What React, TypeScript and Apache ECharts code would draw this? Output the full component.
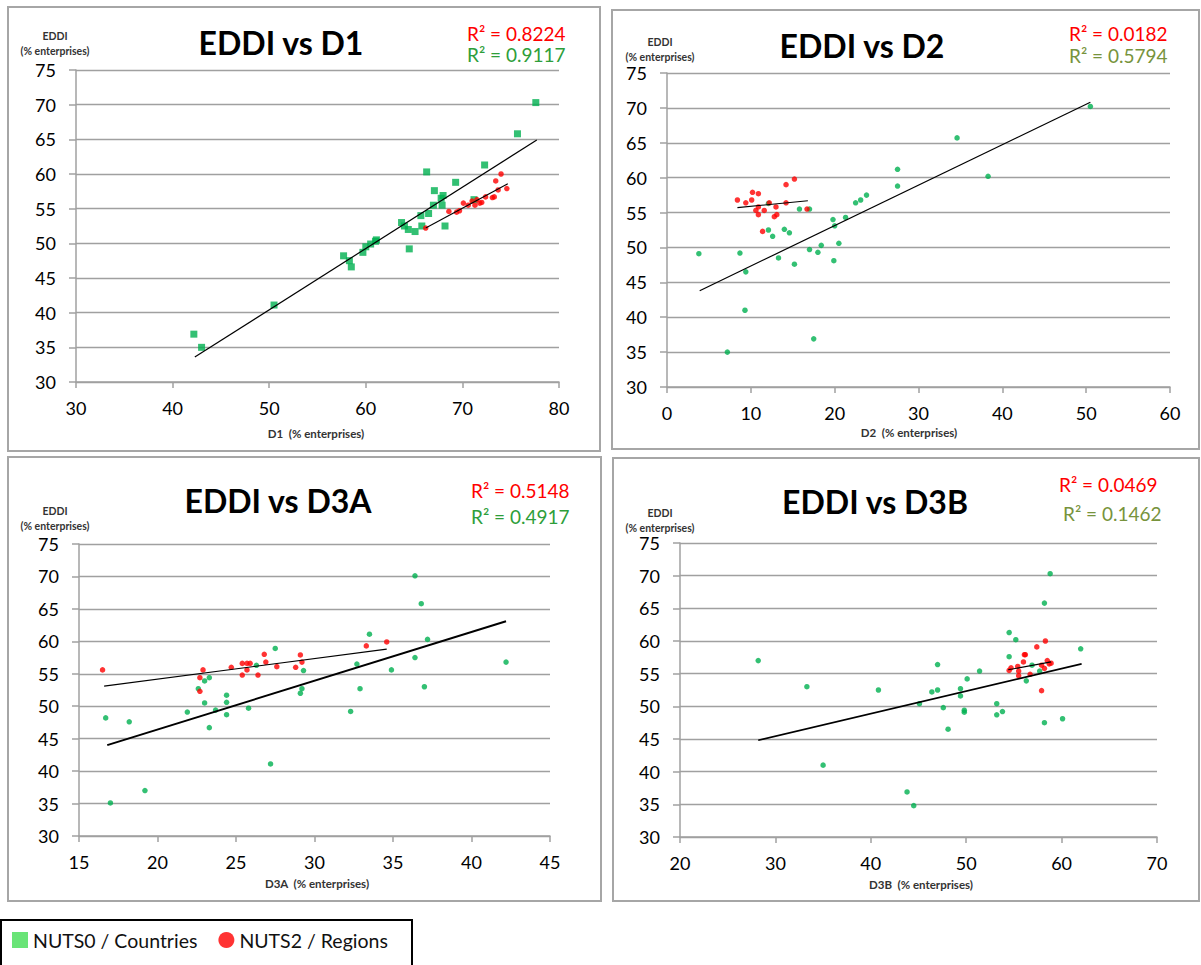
import React, { useEffect, useRef } from "react";
import * as echarts from "echarts";

// ---------- data ----------
const countriesName = "NUTS0 / Countries";
const regionsName = "NUTS2 / Regions";

const d1Countries = [
  [42.2, 36.9], [43.0, 35.0], [50.5, 41.1], [57.7, 48.2], [58.3, 47.5], [58.5, 46.6],
  [59.7, 48.7], [60.0, 49.5], [60.5, 49.9], [61.0, 50.3], [61.1, 50.5], [63.7, 53.0],
  [64.0, 52.5], [64.4, 52.0], [65.1, 51.7], [64.5, 49.2], [65.7, 54.0], [65.8, 52.5],
  [66.3, 60.3], [66.5, 54.3], [67.0, 55.5], [67.1, 57.6], [67.8, 56.5], [68.0, 56.9],
  [67.9, 55.5], [68.2, 52.5], [69.3, 58.8], [71.2, 56.3], [72.3, 61.3], [75.7, 65.8],
  [77.6, 70.3],
];
const d1Regions = [
  [66.2, 52.2], [68.6, 54.6], [69.4, 54.5], [69.7, 54.7], [70.1, 55.8], [70.6, 55.5],
  [71.0, 56.1], [71.3, 55.5], [71.5, 56.3], [71.8, 55.8], [72.0, 55.9], [72.4, 56.7],
  [73.1, 56.6], [73.3, 56.7], [73.45, 59.0], [73.7, 57.7], [74.0, 60.0], [74.6, 57.9],
];
const d1CountryTrend = [[42.3, 33.6], [77.7, 64.9]];
const d1RegionTrend = [[66.2, 52.2], [74.7, 58.6]];

const d2Countries = [
  [3.8, 49.1], [8.7, 49.2], [9.4, 46.5], [9.3, 41.0], [7.2, 35.0], [17.5, 36.9],
  [12.1, 56.3], [12.1, 52.5], [12.6, 51.6], [14.0, 52.6], [14.6, 52.1], [13.3, 48.5],
  [15.2, 47.6], [15.8, 55.5], [17.0, 55.5], [17.0, 49.7], [18.0, 49.3], [18.4, 50.3],
  [19.8, 54.0], [20.0, 53.1], [19.9, 48.1], [20.5, 50.6], [21.3, 54.3], [22.5, 56.4],
  [23.1, 56.8], [23.8, 57.5], [27.5, 61.2], [27.5, 58.8], [34.6, 65.7], [38.3, 60.2],
  [50.5, 70.2],
];
const d2Regions = [
  [8.4, 56.8], [9.4, 56.4], [10.1, 56.8], [10.2, 57.9], [10.9, 57.7], [10.6, 55.3],
  [10.9, 55.8], [10.9, 54.7], [11.6, 55.3], [11.4, 52.3], [12.2, 56.4], [12.8, 54.4],
  [13.1, 54.7], [13.0, 55.8], [14.2, 59.0], [14.2, 56.4], [15.2, 59.8], [16.7, 55.5],
];
const d2CountryTrend = [[3.9, 43.8], [50.5, 70.8]];
const d2RegionTrend = [[8.4, 55.7], [16.8, 56.7]];

const d3Countries = [
  [16.7, 48.2], [17.0, 35.1], [18.2, 47.6], [19.2, 37.0], [21.9, 49.1], [22.6, 52.7],
  [23.0, 53.9], [23.3, 54.4], [23.0, 50.5], [23.3, 46.7], [23.7, 49.4], [24.4, 51.7],
  [24.4, 50.6], [24.4, 48.7], [25.8, 49.7], [26.3, 56.3], [27.2, 41.1], [27.5, 58.9],
  [29.1, 52.0], [29.2, 52.7], [29.3, 55.5], [32.3, 49.2], [32.7, 56.5], [32.9, 52.7],
  [33.5, 61.1], [34.9, 55.6], [36.4, 70.1], [36.4, 57.5], [36.8, 65.8], [37.0, 53.0],
  [37.2, 60.3], [42.2, 56.8],
];
const d3Regions = [
  [16.5, 55.6], [22.7, 54.4], [22.7, 52.3], [22.9, 55.6], [24.7, 56.0], [25.4, 56.6],
  [25.4, 54.8], [25.7, 56.6], [25.7, 55.6], [25.9, 56.6], [26.4, 54.8], [26.8, 58.0],
  [26.9, 56.8], [27.6, 56.1], [28.8, 56.0], [29.1, 57.9], [29.2, 56.8], [33.3, 59.3],
  [34.6, 59.9],
];
const d3CountryTrend = [[16.8, 44.0], [42.2, 63.1]];
const d3RegionTrend = [[16.6, 53.1], [34.6, 58.8]];

const d4Countries = [
  [28.2, 57.0], [33.3, 53.0], [35.0, 41.0], [40.8, 52.5], [43.8, 36.9], [44.5, 34.8],
  [45.1, 50.4], [46.4, 52.2], [47.0, 56.4], [47.0, 52.5], [47.6, 49.8], [48.1, 46.5],
  [49.4, 52.7], [49.4, 51.6], [49.8, 49.4], [49.8, 49.1], [50.1, 54.2], [51.4, 55.4],
  [53.2, 50.4], [53.2, 48.7], [53.8, 49.2], [54.5, 61.3], [54.5, 57.6], [55.2, 60.2],
  [56.3, 53.9], [56.9, 56.3], [57.7, 55.4], [58.2, 65.8], [58.2, 47.5], [58.8, 70.3],
  [60.1, 48.1], [62.0, 58.8],
];
const d4Regions = [
  [54.5, 55.5], [54.7, 55.9], [55.4, 56.1], [55.5, 55.4], [55.5, 54.7], [56.0, 56.8],
  [56.1, 57.9], [56.2, 57.9], [56.7, 54.9], [57.4, 59.1], [57.9, 52.4], [57.9, 56.3],
  [58.2, 55.8], [58.3, 60.0], [58.5, 57.0], [58.7, 56.5], [58.9, 56.6],
];
const d4CountryTrend = [[28.2, 44.8], [62.1, 56.5]];
const d4RegionTrend = [[54.4, 55.6], [58.9, 56.8]];

const panelTitles = ["EDDI vs D1", "EDDI vs D2", "EDDI vs D3A", "EDDI vs D3B"];
const xAxisNames = ["D1  (% enterprises)", "D2  (% enterprises)", "D3A  (% enterprises)", "D3B  (% enterprises)"];
const regionR2 = ["R\u00B2 = 0.8224", "R\u00B2 = 0.0182", "R\u00B2 = 0.5148", "R\u00B2 = 0.0469"];
const countryR2 = ["R\u00B2 = 0.9117", "R\u00B2 = 0.5794", "R\u00B2 = 0.4917", "R\u00B2 = 0.1462"];
const xMins = [30, 0, 15, 20];
const xMaxs = [80, 60, 45, 70];
const xIntervals = [10, 10, 5, 10];
const yMin = 30;
const yMax = 75;
const yInterval = 5;

const countriesData = [d1Countries, d2Countries, d3Countries, d4Countries];
const regionsData = [d1Regions, d2Regions, d3Regions, d4Regions];
const countryTrends = [d1CountryTrend, d2CountryTrend, d3CountryTrend, d4CountryTrend];
const regionTrends = [d1RegionTrend, d2RegionTrend, d3RegionTrend, d4RegionTrend];

// ---------- layout / style ----------
const FONT = "Lato";
const GREEN = "#00B050";
const RED = "#FF0000";
const GRID_GRAY = "#A0A0A0";

const grids = [
  { left: 76, top: 70, width: 483, height: 312 },
  { left: 667, top: 73, width: 503, height: 314 },
  { left: 79, top: 544, width: 471, height: 292 },
  { left: 680, top: 543, width: 477, height: 294 },
];
const panelRects = [
  { x: 8, y: 7, width: 592, height: 444 },
  { x: 612, y: 10, width: 587, height: 439 },
  { x: 8, y: 457, width: 593, height: 444 },
  { x: 613, y: 458, width: 586, height: 443 },
];
const titlePos = [[281, 42], [862, 45], [278, 500], [875, 501]];
const r2RedPos = [[467, 33], [1069, 33], [471, 490], [1059, 484]];
const r2GreenPos = [[467, 54], [1069, 55], [471, 516], [1063, 513]];
const r2GreenColors = ["#2E9E3A", "#77933C", "#2E9E3A", "#77933C"];
const eddiPos = [[55, 28], [660, 34], [55, 503], [660, 505]];
const xNamePos = [[316, 433], [909, 432], [317, 883], [921, 884]];
const countryMarkers = [
  { symbol: "rect", size: 7 },
  { symbol: "circle", size: 5.5 },
  { symbol: "circle", size: 5.5 },
  { symbol: "circle", size: 5.5 },
];
const countryTrendWidths = [1.2, 1.2, 2, 1.6];

function buildOption() {
  const xAxis = grids.map((_, i) => ({
    type: "value",
    gridIndex: i,
    min: xMins[i],
    max: xMaxs[i],
    interval: xIntervals[i],
    axisLine: { show: true, onZero: false, lineStyle: { color: GRID_GRAY, width: 1.5 } },
    axisTick: { show: true, length: 6, lineStyle: { color: GRID_GRAY, width: 1.5 } },
    axisLabel: { fontFamily: FONT, fontSize: 18, color: "#000", margin: 17 },
    splitLine: { show: false },
  }));
  const yAxis = grids.map((_, i) => ({
    type: "value",
    gridIndex: i,
    min: yMin,
    max: yMax,
    interval: yInterval,
    axisLine: { show: true, lineStyle: { color: GRID_GRAY, width: 1.5 } },
    axisTick: { show: true, length: 7, lineStyle: { color: GRID_GRAY, width: 1.5 } },
    axisLabel: { fontFamily: FONT, fontSize: 18, color: "#000", margin: 20 },
    splitLine: { show: true, lineStyle: { color: GRID_GRAY, width: 1.3 } },
  }));

  const series: any[] = [];
  grids.forEach((_, i) => {
    series.push({
      name: countriesName,
      type: "scatter",
      xAxisIndex: i,
      yAxisIndex: i,
      symbol: countryMarkers[i].symbol,
      symbolSize: countryMarkers[i].size,
      itemStyle: { color: GREEN },
      data: countriesData[i],
      z: 2,
    });
    series.push({
      name: regionsName,
      type: "scatter",
      xAxisIndex: i,
      yAxisIndex: i,
      symbol: "circle",
      symbolSize: 5.5,
      itemStyle: { color: RED },
      data: regionsData[i],
      z: 3,
    });
    series.push({
      name: "countryTrend" + i,
      type: "line",
      xAxisIndex: i,
      yAxisIndex: i,
      symbol: "none",
      silent: true,
      lineStyle: { color: "#000", width: countryTrendWidths[i] },
      data: countryTrends[i],
      z: 4,
    });
    series.push({
      name: "regionTrend" + i,
      type: "line",
      xAxisIndex: i,
      yAxisIndex: i,
      symbol: "none",
      silent: true,
      lineStyle: { color: "#000", width: 1.1 },
      data: regionTrends[i],
      z: 4,
    });
  });

  const graphic: any[] = [];
  panelRects.forEach((r) => {
    graphic.push({
      type: "rect",
      shape: r,
      style: { fill: "none", stroke: "#A6A6A6", lineWidth: 2 },
      silent: true,
      z: -1,
    });
  });
  grids.forEach((_, i) => {
    graphic.push({
      type: "text",
      x: titlePos[i][0],
      y: titlePos[i][1],
      style: {
        text: panelTitles[i],
        fontFamily: FONT,
        fontSize: 32,
        fontWeight: "bold",
        fill: "#000",
        align: "center",
        verticalAlign: "middle",
      },
    });
    graphic.push({
      type: "text",
      x: r2RedPos[i][0],
      y: r2RedPos[i][1],
      style: {
        text: regionR2[i],
        fontFamily: FONT,
        fontSize: 19,
        fill: RED,
        align: "left",
        verticalAlign: "middle",
      },
    });
    graphic.push({
      type: "text",
      x: r2GreenPos[i][0],
      y: r2GreenPos[i][1],
      style: {
        text: countryR2[i],
        fontFamily: FONT,
        fontSize: 19,
        fill: r2GreenColors[i],
        align: "left",
        verticalAlign: "middle",
      },
    });
    graphic.push({
      type: "text",
      x: eddiPos[i][0],
      y: eddiPos[i][1],
      style: {
        text: "EDDI\n(% enterprises)",
        fontFamily: FONT,
        fontSize: 10.5,
        fontWeight: "bold",
        lineHeight: 15,
        fill: "#333",
        align: "center",
        verticalAlign: "top",
      },
    });
    graphic.push({
      type: "text",
      x: xNamePos[i][0],
      y: xNamePos[i][1],
      style: {
        text: xAxisNames[i],
        fontFamily: FONT,
        fontSize: 11.5,
        fontWeight: "bold",
        fill: "#333",
        align: "center",
        verticalAlign: "middle",
      },
    });
  });
  graphic.push({
    type: "rect",
    shape: { x: 1, y: 920, width: 411, height: 60 },
    style: { fill: "none", stroke: "#000", lineWidth: 2 },
    silent: true,
  });

  return {
    animation: false,
    backgroundColor: "#fff",
    grid: grids.map((g) => ({ ...g, containLabel: false })),
    xAxis,
    yAxis,
    series,
    graphic,
    legend: {
      left: 12,
      top: 930,
      padding: 0,
      itemWidth: 16,
      itemHeight: 16,
      itemGap: 21,
      selectedMode: false,
      textStyle: { fontFamily: FONT, fontSize: 19.5, color: "#111" },
      data: [
        { name: countriesName, icon: "rect", itemStyle: { color: "#44DD55" } },
        { name: regionsName, icon: "circle", itemStyle: { color: RED } },
      ],
    },
  };
}

export default function App() {
  const ref = useRef<HTMLDivElement>(null);
  useEffect(() => {
    if (!ref.current) return;
    const chart = echarts.init(ref.current, undefined, { renderer: "svg" });
    chart.setOption(buildOption() as any);
    return () => {
      chart.dispose();
    };
  }, []);
  return (
    <div
      ref={ref}
      style={{ position: "absolute", left: 0, top: 0, width: 1201, height: 965, background: "#fff" }}
    />
  );
}
